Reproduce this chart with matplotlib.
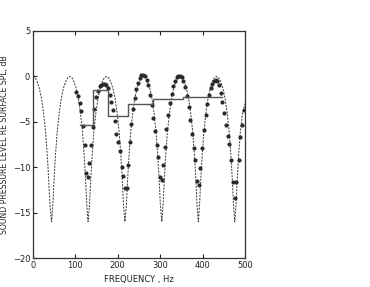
import matplotlib
matplotlib.use("Agg")
import matplotlib.pyplot as plt

# Theoretical (dashed) curve
theory_f = [0, 5, 10, 15, 20, 25, 30, 34, 37, 40, 44,
            47, 50, 53, 57, 62, 67, 72, 77, 82, 87, 92, 97, 102, 107, 112, 117, 121, 124, 127, 130,
            133.5, 136.5, 139.5, 143.5, 148.5, 153.5, 158.5, 163.5, 168.5, 173.5, 178.5, 183.5, 188.5, 193.5, 198.5, 203.5, 207.5, 210.5, 213.5, 217,
            220.5, 223.5, 226.5, 230.5, 235.5, 240.5, 245.5, 250.5, 255.5, 260.5, 265.5, 270.5, 275.5, 280.5, 285.5, 290.5, 294.5, 297.5, 300.5, 304,
            307, 310, 313, 317, 322, 327, 332, 337, 342, 347, 352, 357, 362, 367, 372, 377, 381, 384, 387, 390,
            393, 396, 399, 403, 408, 413, 418, 423, 428, 433, 438, 443, 448, 453, 458, 463, 467, 470, 473, 476,
            479, 482, 485, 489, 494, 500]
theory_db = [0, -0.14, -0.6, -1.3, -2.4, -4.0, -6.2, -8.8, -11.2, -14.1, -16,
             -14.1, -11.2, -8.8, -6.2, -4.0, -2.4, -1.3, -0.6, -0.14, 0, -0.14, -0.6, -1.3, -2.4, -4.0, -6.2, -8.8, -11.2, -14.1, -16,
             -14.1, -11.2, -8.8, -6.2, -4.0, -2.4, -1.3, -0.6, -0.14, 0, -0.14, -0.6, -1.3, -2.4, -4.0, -6.2, -8.8, -11.2, -14.1, -16,
             -14.1, -11.2, -8.8, -6.2, -4.0, -2.4, -1.3, -0.6, -0.14, 0, -0.14, -0.6, -1.3, -2.4, -4.0, -6.2, -8.8, -11.2, -14.1, -16,
             -14.1, -11.2, -8.8, -6.2, -4.0, -2.4, -1.3, -0.6, -0.14, 0, -0.14, -0.6, -1.3, -2.4, -4.0, -6.2, -8.8, -11.2, -14.1, -16,
             -14.1, -11.2, -8.8, -6.2, -4.0, -2.4, -1.3, -0.6, -0.14, 0, -0.14, -0.6, -1.3, -2.4, -4.0, -6.2, -8.8, -11.2, -14.1, -16,
             -14.1, -11.2, -8.8, -6.2, -4.2, -3.0]

# Measured points (dots)
meas_f = [102, 106, 110, 114, 118, 122, 126, 129, 133, 137, 141, 145, 149, 153, 157, 161, 165, 169, 173, 177,
          181, 185, 189, 193, 197, 201, 205, 209, 213, 217, 221, 224, 228, 232, 236, 240, 244, 248, 252, 256,
          260, 264, 268, 272, 276, 280, 284, 288, 292, 296, 300, 304, 307, 311, 315, 319, 323, 327, 331, 335,
          339, 343, 347, 351, 355, 359, 363, 367, 371, 375, 379, 383, 387, 391, 395, 399, 403, 407, 411, 415,
          419, 423, 427, 431, 435, 439, 443, 447, 451, 455, 459, 463, 468, 472, 476, 480, 485, 488, 492, 497]
meas_db = [-1.7, -2.2, -2.9, -3.8, -5.5, -7.6, -10.6, -11.1, -9.5, -7.6, -5.6, -3.6, -2.3, -1.6, -1.1, -0.9, -0.8, -0.8, -0.9, -1.3,
           -2.0, -2.8, -3.7, -4.9, -6.3, -7.2, -8.2, -10.0, -11.0, -12.3, -12.3, -9.8, -7.2, -5.2, -3.6, -2.4, -1.4, -0.7, -0.2, 0.1,
           0.2, 0.0, -0.4, -1.0, -2.0, -3.2, -4.6, -6.0, -7.6, -8.9, -11.1, -11.4, -9.8, -7.8, -5.8, -4.2, -2.9, -1.9, -1.1, -0.5,
           -0.1, 0.0, 0.0, -0.1, -0.5, -1.2, -2.2, -3.4, -4.8, -6.3, -7.9, -9.2, -11.5, -12.0, -10.1, -7.9, -5.9, -4.3, -3.0, -2.0,
           -1.3, -0.8, -0.5, -0.4, -0.5, -1.0, -1.8, -2.8, -4.0, -5.3, -6.6, -7.4, -9.2, -11.6, -13.4, -11.6, -9.2, -6.7, -5.4, -3.7]

# One-third-octave band averages (step line)
band_edges = [112, 141, 178, 224, 282, 355, 447]
band_db = [-5.3, -1.5, -4.4, -3.0, -2.5, -2.3]

fig = plt.figure(figsize=(3.70, 2.87), dpi=100)
ax = fig.add_axes([0.089, 0.101, 0.573, 0.791])

ax.plot(theory_f, theory_db, color="#333333", lw=0.7, ls=(0, (2.0, 1.3)))
ax.plot(meas_f, meas_db, ls="none", marker="o", ms=3.0, color="#2a2a2a", mec="none")
ax.step(band_edges, band_db + [band_db[-1]], where="post", color="#555555", lw=1.0)

ax.set_xlim(0, 500)
ax.set_ylim(-20, 5)
ax.set_xticks([0, 100, 200, 300, 400, 500])
ax.set_yticks([5, 0, -5, -10, -15, -20])
ax.tick_params(direction="in", length=3, width=0.8, labelsize=6, pad=2,
               top=True, right=False, colors="#222222")
for s in ax.spines.values():
    s.set_linewidth(0.9)
    s.set_color("#333333")

ax.set_xlabel("FREQUENCY , Hz", fontsize=6, labelpad=4, color="#222222")
ax.set_ylabel("SOUND PRESSURE LEVEL RE SURFACE SPL, dB", fontsize=5.6, color="#222222")
ax.yaxis.set_label_coords(-0.115, 0.5)

fig.savefig("out.png", dpi=100)
